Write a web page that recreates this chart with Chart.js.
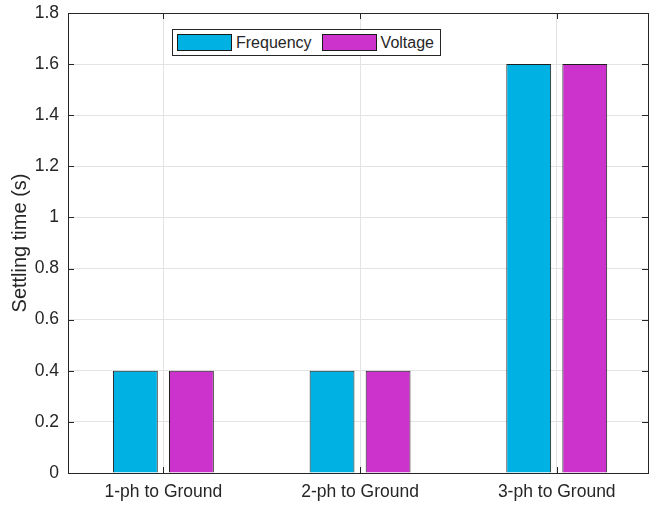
<!DOCTYPE html>
<html>
<head>
<meta charset="utf-8">
<script src="https://cdn.jsdelivr.net/npm/chart.js@4/dist/chart.umd.min.js"></script>
<style>
    html, body { margin: 0; padding: 0; background: #fff; overflow: hidden; }
    #wrap { position: relative; width: 649px; height: 505px; }
    #legend {
        position: absolute; left: 172px; top: 29px; height: 25px;
        border: 1px solid #262626; background: #fff;
        display: flex; align-items: center; padding: 0 6px 0 4px;
        font: 16px "Liberation Sans", Arial, Helvetica, sans-serif; color: #262626;
    }
    #legend .item { display: flex; align-items: center; margin-right: 10px; }
    #legend .item:last-child { margin-right: 0; }
    #legend .swatch { width: 53px; height: 15px; border: 1px solid #1a1a1a; margin-right: 4px; }
</style>
</head>
<body>
<div id="wrap">
    <canvas id="settlingChart" width="649" height="505"></canvas>
    <div id="legend"></div>
</div>
<script>
// Fault cases and settling times
const categories = ['1-ph to Ground', '2-ph to Ground', '3-ph to Ground'];
const frequencyTime = [0.4, 0.4, 1.6];
const voltageTime = [0.4, 0.4, 1.6];
const yMin = 0;
const yMax = 1.8;
const yStep = 0.2;

const axisColor = '#262626';
const gridColor = '#e3e3e3';
const fontFamily = '"Liberation Sans", Arial, Helvetica, sans-serif';

function toPoints(values) {
    return values.map(function(v, i) { return { x: i + 1, y: v }; });
}

// box around the axes plus inward tick marks on all four sides
const frameTicks = {
    id: 'frameTicks',
    afterDatasetsDraw(chart) {
        const { ctx, chartArea: a, scales } = chart;
        const len = 6;
        ctx.save();
        ctx.strokeStyle = axisColor;
        ctx.lineWidth = 1;
        ctx.beginPath();
        scales.y.ticks.forEach(function(t) {
            const py = Math.round(scales.y.getPixelForValue(t.value)) + 0.5;
            ctx.moveTo(a.left, py); ctx.lineTo(a.left + len, py);
            ctx.moveTo(a.right, py); ctx.lineTo(a.right - len, py);
        });
        scales.x.ticks.forEach(function(t) {
            const px = Math.round(scales.x.getPixelForValue(t.value)) + 0.5;
            ctx.moveTo(px, a.bottom); ctx.lineTo(px, a.bottom - len);
            ctx.moveTo(px, a.top); ctx.lineTo(px, a.top + len);
        });
        ctx.stroke();
        ctx.strokeRect(Math.round(a.left) + 0.5, Math.round(a.top) + 0.5,
            Math.round(a.right - a.left), Math.round(a.bottom - a.top));
        ctx.restore();
    }
};

const chart = new Chart(document.getElementById('settlingChart').getContext('2d'), {
    type: 'bar',
    data: {
        datasets: [{
            label: 'Frequency',
            data: toPoints(frequencyTime),
            backgroundColor: '#00b2e4',
            borderColor: '#1f1f1f',
            borderWidth: 1
        }, {
            label: 'Voltage',
            data: toPoints(voltageTime),
            backgroundColor: '#cc33cc',
            borderColor: '#1f1f1f',
            borderWidth: 1
        }]
    },
    options: {
        responsive: false,
        animation: false,
        categoryPercentage: 0.57,
        barPercentage: 0.8,
        layout: { padding: { top: 13, right: 1, bottom: 0, left: 0 } },
        plugins: {
            legend: { display: false },
            tooltip: { enabled: false }
        },
        scales: {
            x: {
                type: 'linear',
                offset: false,
                min: 0.515,
                max: 3.464,
                afterBuildTicks: function(scale) {
                    scale.ticks = categories.map(function(c, i) { return { value: i + 1 }; });
                },
                afterFit: function(scale) {
                    scale.height = 32;
                    scale.paddingLeft = 0;
                    scale.paddingRight = 0;
                },
                grid: { color: gridColor, drawTicks: false, offset: false },
                border: { display: false },
                ticks: {
                    padding: 9,
                    color: axisColor,
                    font: { family: fontFamily, size: 17.5 },
                    maxRotation: 0,
                    autoSkip: false,
                    callback: function(value) { return categories[value - 1]; }
                }
            },
            y: {
                min: yMin,
                max: yMax,
                afterFit: function(scale) {
                    scale.width = 68;
                    scale.paddingTop = 0;
                    scale.paddingBottom = 0;
                },
                grid: { color: gridColor, drawTicks: false },
                border: { display: false },
                ticks: {
                    stepSize: yStep,
                    padding: 9,
                    color: axisColor,
                    font: { family: fontFamily, size: 17.5 },
                    callback: function(value) { return String(Math.round(value * 10) / 10); }
                },
                title: {
                    display: true,
                    text: 'Settling time (s)',
                    color: axisColor,
                    font: { family: fontFamily, size: 20 },
                    padding: { top: 8, bottom: 0 }
                }
            }
        }
    },
    plugins: [frameTicks]
});

// legend box drawn as html over the plot
const legendEl = document.getElementById('legend');
chart.data.datasets.forEach(function(ds) {
    const item = document.createElement('div');
    item.className = 'item';
    const sw = document.createElement('span');
    sw.className = 'swatch';
    sw.style.background = ds.backgroundColor;
    const label = document.createElement('span');
    label.textContent = ds.label;
    item.appendChild(sw);
    item.appendChild(label);
    legendEl.appendChild(item);
});
</script>
</body>
</html>
